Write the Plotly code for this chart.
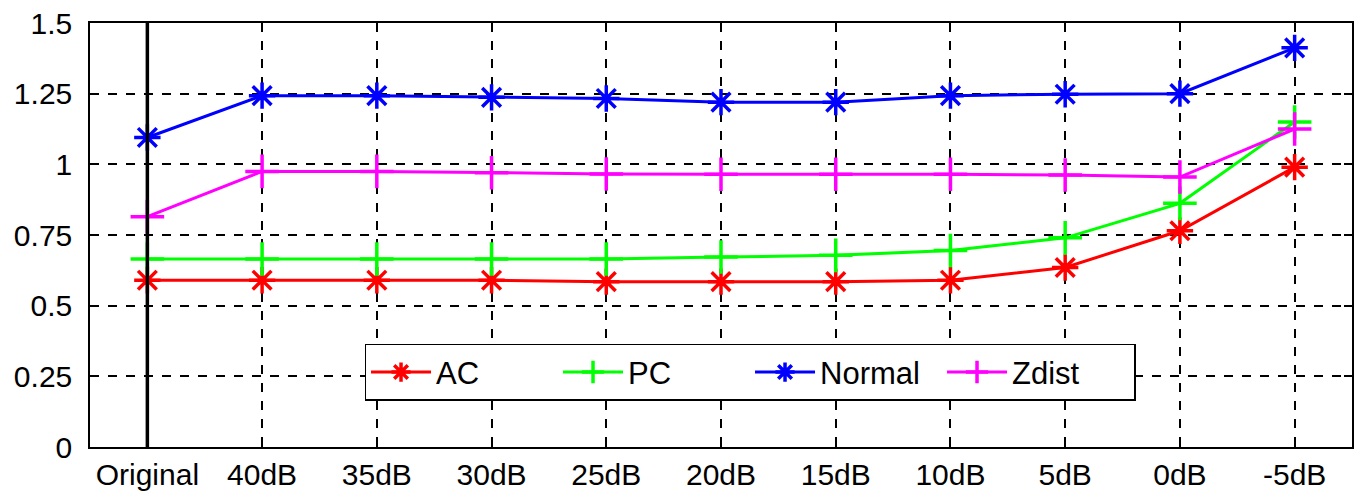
import plotly.graph_objects as go

categories = ["Original", "40dB", "35dB", "30dB", "25dB", "20dB", "15dB", "10dB", "5dB", "0dB", "-5dB"]

ac = [0.59, 0.59, 0.59, 0.59, 0.585, 0.585, 0.585, 0.59, 0.635, 0.765, 0.99]
pc = [0.665, 0.665, 0.665, 0.665, 0.665, 0.672, 0.678, 0.695, 0.74, 0.862, 1.15]
normal = [1.095, 1.243, 1.243, 1.237, 1.233, 1.22, 1.22, 1.243, 1.248, 1.25, 1.412]
zdist = [0.815, 0.975, 0.975, 0.97, 0.966, 0.965, 0.965, 0.965, 0.962, 0.955, 1.125]

y_ticks = [0, 0.25, 0.5, 0.75, 1, 1.25, 1.5]
y_tick_text = ["0", "0.25", "0.5", "0.75", "1", "1.25", "1.5"]

series = [
    ("AC", ac, "#FF0000", "asterisk-open", 22),
    ("PC", pc, "#00FF00", "cross-thin-open", 24),
    ("Normal", normal, "#0000FF", "asterisk-open", 22),
    ("Zdist", zdist, "#FF00FF", "cross-thin-open", 24),
]

fig = go.Figure()
for name, vals, color, sym, size in series:
    fig.add_trace(go.Scatter(
        x=categories, y=vals, name=name, mode="lines+markers",
        line=dict(color=color, width=3),
        marker=dict(symbol=sym, size=size, color=color, line=dict(color=color, width=3.5)),
    ))

# thick black vertical line at the first category
fig.add_trace(go.Scatter(
    x=[categories[0], categories[0]], y=[y_ticks[0], y_ticks[-1]],
    mode="lines", line=dict(color="black", width=3.5), showlegend=False, hoverinfo="skip",
))

font_family = "Liberation Sans, Arial, sans-serif"

fig.update_layout(
    width=1360, height=497,
    margin=dict(l=90, r=6, t=22, b=49),
    paper_bgcolor="white", plot_bgcolor="white",
    font=dict(family=font_family, size=30, color="black"),
    showlegend=True,
    legend=dict(
        orientation="h",
        x=0.523, y=0.176, xanchor="center", yanchor="middle",
        bgcolor="white", bordercolor="black", borderwidth=1.5,
        font=dict(family=font_family, size=31, color="black"),
        entrywidth=117,
        itemwidth=60,
    ),
)

fig.update_xaxes(
    type="category", categoryorder="array", categoryarray=categories,
    range=[-0.5, len(categories) - 0.5],
    showline=True, linecolor="black", linewidth=1.5, mirror="ticks",
    ticks="inside", ticklen=8, tickcolor="black", tickwidth=1.5,
    showgrid=True, gridcolor="black", gridwidth=1.5, griddash="dash",
    zeroline=False, ticklabelstandoff=0,
    tickfont=dict(size=30),
)
fig.update_yaxes(
    range=[y_ticks[0], y_ticks[-1]],
    tickvals=y_ticks, ticktext=y_tick_text,
    showline=True, linecolor="black", linewidth=1.5, mirror="ticks",
    ticks="inside", ticklen=8, tickcolor="black", tickwidth=1.5,
    showgrid=True, gridcolor="black", gridwidth=1.5, griddash="dash",
    zeroline=False, ticklabelstandoff=10,
    tickfont=dict(size=30),
)

fig.write_html("out.html")
